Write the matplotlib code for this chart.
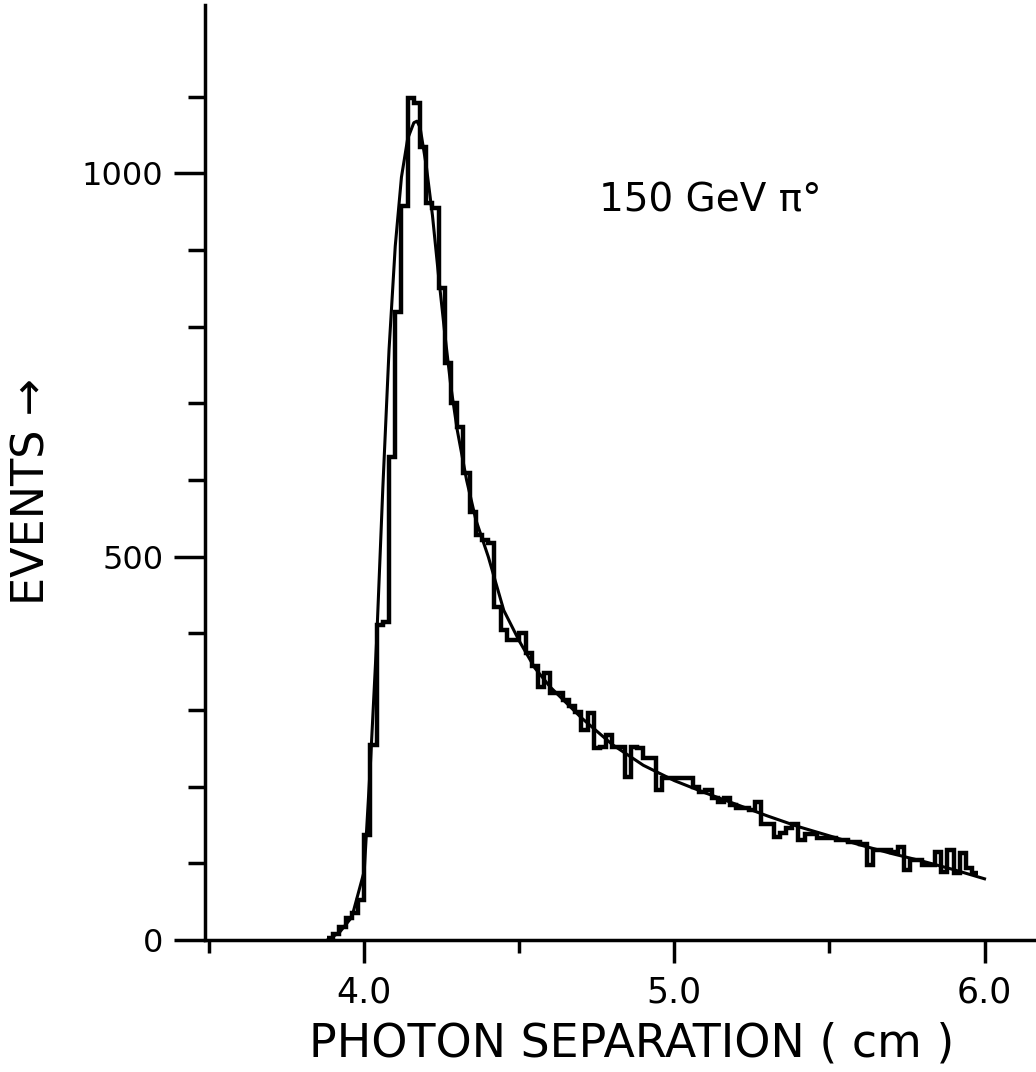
import numpy as np
import matplotlib.pyplot as plt

# histogram: 0.02 cm bins starting at 3.88 cm
bin_start = 3.88
bin_width = 0.02
counts = [3, 8, 17, 29, 35, 52,
          137, 254, 411, 415, 630, 819, 958, 1098, 1092, 1034,
          961, 955, 851, 752, 700, 669, 609, 558, 528, 522,
          518, 434, 405, 391, 391, 400, 375, 358, 330, 349,
          322, 322, 313, 305, 297, 274, 296, 250, 252, 267,
          252, 252, 213, 252, 250, 237, 237, 196, 211, 211,
          211, 211, 211, 200, 193, 196, 186, 180, 186, 176,
          172, 172, 170, 180, 152, 152, 134, 140, 146, 152,
          130, 139, 139, 133, 133, 133, 131, 131, 128, 128,
          125, 98, 117, 117, 117, 115, 121, 91, 104, 104,
          98, 98, 115, 89, 117, 87, 113, 94, 88]

# fitted curve
fit_x = [3.88, 3.92, 3.96, 4.00, 4.02, 4.04, 4.06, 4.08, 4.10, 4.12,
         4.14, 4.16, 4.17, 4.18, 4.20, 4.22, 4.24, 4.26, 4.28, 4.30,
         4.33, 4.36, 4.40, 4.45, 4.50, 4.55, 4.60, 4.70, 4.80, 4.90,
         5.00, 5.10, 5.20, 5.30, 5.40, 5.50, 5.60, 5.70, 5.80, 5.90, 6.00]
fit_y = [0, 10, 30, 90, 230, 390, 590, 770, 905, 995,
         1045, 1066, 1068, 1060, 1010, 945, 865, 790, 720, 665,
         600, 548, 500, 430, 390, 355, 330, 290, 255, 228,
         208, 192, 177, 162, 148, 136, 124, 113, 103, 92, 80]

edges = bin_start + bin_width * np.arange(len(counts) + 1)

fig = plt.figure(figsize=(10.36, 10.72), dpi=100)
ax = fig.add_axes([0.198, 0.123, 0.802, 0.872])

ax.stairs(counts, edges, baseline=None, color='black', lw=3.2)
ax.plot(fit_x, fit_y, color='black', lw=2.2)

ax.set_xlim(3.487, 6.166)
ax.set_ylim(0, 1219)

for s in ['top', 'right']:
    ax.spines[s].set_visible(False)
for s in ['left', 'bottom']:
    ax.spines[s].set_linewidth(2.5)

ax.set_xticks([4.0, 5.0, 6.0])
ax.set_xticklabels(['4.0', '5.0', '6.0'])
ax.set_xticks([3.5, 4.5, 5.5], minor=True)
ax.set_yticks([0, 500, 1000])
ax.set_yticklabels(['0', '500', '1000'])
ax.set_yticks([100, 200, 300, 400, 600, 700, 800, 900, 1100], minor=True)

ax.tick_params(axis='x', which='major', direction='out', length=16.5, width=2.5,
               labelsize=25, pad=9)
ax.tick_params(axis='x', which='minor', direction='out', length=9.5, width=2.5)
ax.tick_params(axis='y', which='major', direction='out', length=22, width=2.5,
               labelsize=23, pad=8)
ax.tick_params(axis='y', which='minor', direction='out', length=12, width=2.5)

fig.text(0.61, 0.014, 'PHOTON SEPARATION ( cm )', fontsize=33, ha='center', va='baseline')
fig.text(0.031, 0.541, 'EVENTS \u2192', fontsize=32, rotation=90, ha='center', va='center')
ax.text(5.116, 965, '150 GeV \u03c0\u00b0', fontsize=28, ha='center', va='center')

fig.savefig('out.png', dpi=100)
